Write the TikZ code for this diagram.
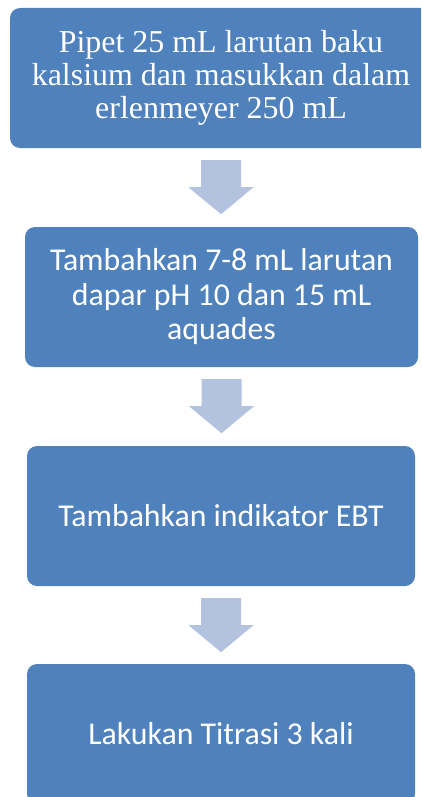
\documentclass[tikz,border=0pt]{standalone}
\usepackage{fontspec}
\setmainfont{Liberation Serif}
\newfontfamily\carlito{Carlito}
\usetikzlibrary{calc}
\definecolor{boxblue}{HTML}{4F81BD}
\definecolor{arrowblue}{HTML}{B3C3DF}
\tikzset{
  stepbox/.style={fill=boxblue, draw=none, rounded corners=10pt, text=white, align=center, minimum height=140pt, inner sep=0pt},
  serifText/.style={font=\fontsize{31.9}{33}\selectfont},
  sansText/.style={font=\carlito\fontsize{31.8}{34.5}\selectfont},
  blockarrow/.style={fill=arrowblue, draw=none}
}
\newcommand{\blockarr}[1]{%
  \fill[blockarrow] ($(#1.south)+(-20,12)$) -- ($(#1.south)+(20,12)$) -- ($(#1.south)+(20,39)$) -- ($(#1.south)+(32.5,39)$) -- ($(#1.south)+(0,66)$) -- ($(#1.south)+(-32.5,39)$) -- ($(#1.south)+(-20,39)$) -- cycle;}
\begin{document}
\begin{tikzpicture}[x=1pt,y=-1pt]
\useasboundingbox (0,0) rectangle (421,797);
\clip (0,0) rectangle (421,797);
\node[stepbox, serifText, minimum width=422pt] (b1) at (221,78) {Pipet 25 mL larutan baku\\kalsium dan masukkan dalam\\erlenmeyer 250 mL};
\node[stepbox, sansText, minimum width=393pt] (b2) at (221.5,297) {Tambahkan 7-8 mL larutan\\dapar pH 10 dan 15 mL\\aquades};
\node[stepbox, sansText, minimum width=388pt] (b3) at (221,516) {Tambahkan indikator EBT};
\node[stepbox, sansText, minimum width=388pt] (b4) at (221,734) {Lakukan Titrasi 3 kali};
\blockarr{b1}
\blockarr{b2}
\blockarr{b3}
\end{tikzpicture}
\end{document}
